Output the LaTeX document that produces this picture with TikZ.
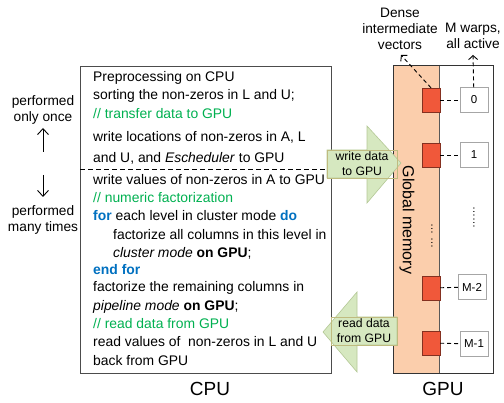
\documentclass[tikz,border=0pt]{standalone}
\usepackage{fontspec}
\setmainfont{Liberation Sans}
\usetikzlibrary{arrows.meta}

\definecolor{cmtgreen}{RGB}{0,176,80}
\definecolor{kwblue}{RGB}{0,112,192}
\definecolor{membg}{RGB}{251,206,172}
\definecolor{blockred}{RGB}{240,88,58}
\definecolor{arrowfill}{RGB}{214,232,192}
\definecolor{arrowedge}{RGB}{180,200,150}
\definecolor{boxedge}{RGB}{175,170,95}

\newcommand{\kw}[1]{\textcolor{kwblue}{\textbf{#1}}}

\tikzset{
  codeline/.style = {anchor = west, inner sep = 0pt, font = \fontsize{13.9}{16}\selectfont},
  sidetext/.style = {align = center, inner sep = 0pt, font = \fontsize{13.7}{16}\selectfont},
  warpbox/.style = {draw = gray!70, fill = white, minimum width = 28pt, minimum height = 25pt,
    inner sep = 0pt, font = \fontsize{11.5}{13}\selectfont},
  vecblock/.style = {draw = blockred!55!black, fill = blockred, minimum width = 18pt,
    minimum height = 24pt, inner sep = 0pt},
  link/.style = {dashed, line width = 0.9pt, dash pattern = on 4pt off 3pt},
  bigarrow/.style = {fill = arrowfill, draw = arrowedge, line width = 0.6pt},
  arrowtext/.style = {draw = boxedge!80, line width = 0.6pt, align = center, inner sep = 0pt,
    font = \fontsize{12.2}{15}\selectfont},
}

\begin{document}
\begin{tikzpicture}[x = 1pt, y = -1pt]
    \useasboundingbox (0, 0) rectangle (504, 403);

    % CPU side
    \draw [draw = gray!60!black, line width = 0.8pt] (80, 66) rectangle (331, 373);
    \draw [dashed, line width = 0.8pt, dash pattern = on 5pt off 3pt] (80, 169) -- (331, 169);

    \node [codeline] (l1) at (93, 78) {Preprocessing on CPU};
    \node [codeline] (l2) at (93, 96) {sorting the non-zeros in L and U;};
    \node [codeline, text = cmtgreen] (l3) at (93, 114) {// transfer data to GPU};
    \node [codeline] (l4) at (93, 137) {write locations of non-zeros in A, L};
    \node [codeline] (l5) at (93, 158) {and U, and \textit{Escheduler} to GPU};
    \node [codeline] (l6) at (93, 180) {write values of non-zeros in A to GPU};
    \node [codeline, text = cmtgreen] (l7) at (93, 198) {// numeric factorization};
    \node [codeline] (l8) at (93, 216) {\kw{for} each level in cluster mode \kw{do}};
    \node [codeline] (l9) at (113, 235) {factorize all columns in this level in};
    \node [codeline] (l10) at (113, 253) {\textit{cluster mode} \textbf{on GPU};};
    \node [codeline] (l11) at (93, 270) {\kw{end for}};
    \node [codeline] (l12) at (93, 288) {factorize the remaining columns in};
    \node [codeline] (l13) at (93, 307) {\textit{pipeline mode} \textbf{on GPU};};
    \node [codeline, text = cmtgreen] (l14) at (93, 324) {// read data from GPU};
    \node [codeline] (l15) at (93, 342) {read values of\ \ non-zeros in L and U};
    \node [codeline] (l16) at (93, 361) {back from GPU};

    \node [font = \fontsize{19}{22}\selectfont] (cpu) at (210, 389) {CPU};

    \node [sidetext] (once) at (43, 110) {performed\\only once};
    \node [sidetext] (many) at (43, 220) {performed\\many times};
    \coordinate (up1) at (43, 152);
    \coordinate (up2) at (43, 128);
    \coordinate (dn1) at (43, 175);
    \coordinate (dn2) at (43, 197);
    \draw [-{Straight Barb[length = 6pt, width = 11pt]}, line width = 0.9pt] (up1) -- (up2);
    \draw [-{Straight Barb[length = 6pt, width = 11pt]}, line width = 0.9pt] (dn1) -- (dn2);

    % GPU side
    \fill [membg] (393, 65) rectangle (439, 373);
    \draw [draw = gray!70!black, line width = 0.8pt] (439, 65) -- (439, 373);
    \draw [draw = black!80, line width = 0.9pt] (393, 65) rectangle (493, 373);

    \node [rotate = -90, inner sep = 0pt, font = \fontsize{16}{18}\selectfont] (gmem) at (407, 220) {Global memory};
    \node [rotate = -90, inner sep = 0pt, font = \fontsize{11}{12}\selectfont] (gdots) at (432, 236) {\dots\ \dots};
    \node [rotate = -90, inner sep = 0pt, font = \fontsize{11}{12}\selectfont] (wdots) at (474, 218) {\dots\dots};

    \node [vecblock] (v0) at (431, 100) {};
    \node [vecblock] (v1) at (431, 155) {};
    \node [vecblock] (v2) at (431, 288) {};
    \node [vecblock] (v3) at (431, 343) {};

    \node [warpbox] (w0) at (474, 100) {0};
    \node [warpbox] (w1) at (474, 155) {1};
    \node [warpbox] (w2) at (472, 287) {M-2};
    \node [warpbox] (w3) at (474, 344) {M-1};

    \draw [link] (v0) -- (w0);
    \draw [link] (v1) -- (w1);
    \draw [link] (v2) -- (w2);
    \draw [link] (v3) -- (w3);

    \node [sidetext] (dense) at (400, 29) {Dense\\intermediate\\vectors};
    \node [sidetext] (warps) at (473, 36) {M warps,\\all active};
    \coordinate (dtip) at (401, 55);
    \coordinate (wtip) at (473, 55);
    \draw [link, -{Straight Barb[length = 4pt, width = 9pt]}] (v0.north) -- (dtip);
    \draw [link, -{Straight Barb[length = 4pt, width = 9pt]}] (w0) -- (wtip);

    % transfer arrows
    \draw [bigarrow] (327, 150) -- (367, 150) -- (367, 126) -- (401, 163)
      -- (367, 203) -- (367, 178) -- (327, 178) -- cycle;
    \node [arrowtext, minimum width = 70pt, minimum height = 28pt] (wr) at (362, 164) {write data\\to GPU};

    \draw [bigarrow] (397, 317) -- (357, 317) -- (357, 292) -- (323, 332)
      -- (357, 372) -- (357, 345) -- (397, 345) -- cycle;
    \node [arrowtext, minimum width = 66pt, minimum height = 28pt] (rd) at (364, 331) {read data\\from GPU};

    \node [font = \fontsize{19}{22}\selectfont] (gpu) at (443, 389) {GPU};
\end{tikzpicture}
\end{document}
